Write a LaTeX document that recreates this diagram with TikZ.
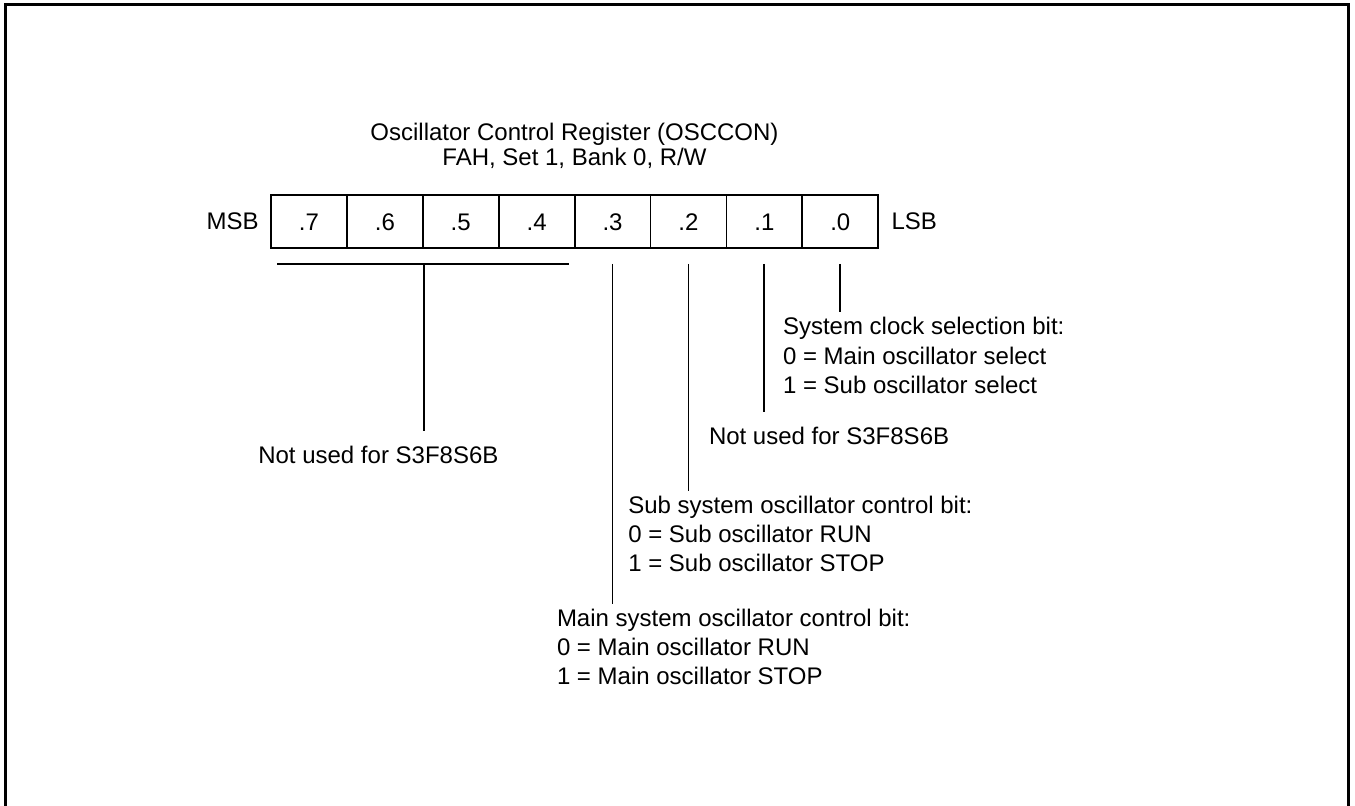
\documentclass[tikz,border=0pt]{standalone}
\usepackage{fontspec}
\setmainfont{Liberation Sans}
\usetikzlibrary{positioning}
\tikzset{
    bitcell/.style={rectangle, draw, line width=0.9pt, minimum width=37.95pt, minimum height=26.5pt, inner sep=0pt, text height=8.6pt, text depth=0pt},
    tag/.style={inner sep=0pt},
    note/.style={align=left, anchor=north west, inner sep=0pt, outer sep=0pt},
    lead/.style={line width=0.9pt, shorten >=2.5pt},
    longlead/.style={line width=0.9pt, shorten >=7.5pt}
}

\begin{document}
\begin{tikzpicture}[x=0.5pt, y=-0.5pt, font=\fontsize{12pt}{14.6pt}\selectfont]
    \clip (0,0) rectangle (1355,806);
    % Frame
    \draw[line width=1.4pt] (5.5,4.5) rectangle (1348.5,840);

    % Register bits
    \foreach \b [count=\i from 0] in {7,...,0}
        \node[bitcell] (b\b) at (308.95+75.9*\i, 221.5) {.\b};
    \node[tag, left=5.5pt of b7] (msb) {MSB};
    \node[tag, right=6pt of b0] (lsb) {LSB};
    \node[align=center, anchor=north, inner sep=0pt, font=\fontsize{12pt}{12.5pt}\selectfont] (title) at (574.5,123)
        {Oscillator Control Register (OSCCON)\\FAH, Set 1, Bank 0, R/W};

    % Labels
    \node[note] (sel) at (783,317.5) {System clock selection bit:\\0 = Main oscillator select\\1 = Sub oscillator select};
    \node[note] (nulo) at (709,427) {Not used for S3F8S6B};
    \node[note] (sub) at (628.3,496) {Sub system oscillator control bit:\\0 = Sub oscillator RUN\\1 = Sub oscillator STOP};
    \node[note] (main) at (557,609) {Main system oscillator control bit:\\0 = Main oscillator RUN\\1 = Main oscillator STOP};
    \node[note] (nuhi) at (258.3,446) {Not used for S3F8S6B};

    % Leaders
    \coordinate (brl) at ([xshift=3.5pt, yshift=-7.5pt]b7.south west);
    \coordinate (brr) at ([xshift=-3.5pt, yshift=-7.5pt]b4.south east);
    \draw[lead, shorten >=0pt] (brl) -- (brr);
    \draw[longlead] (b6.south east |- brl) -- (b6.south east |- nuhi.north);
    \draw[lead] (b3 |- brl) -- (b3 |- main.north);
    \draw[lead] (b2 |- brl) -- (b2 |- sub.north);
    \draw[longlead] (b1 |- brl) -- (b1 |- nulo.north);
    \draw[lead] (b0 |- brl) -- (b0 |- sel.north);
\end{tikzpicture}
\end{document}
